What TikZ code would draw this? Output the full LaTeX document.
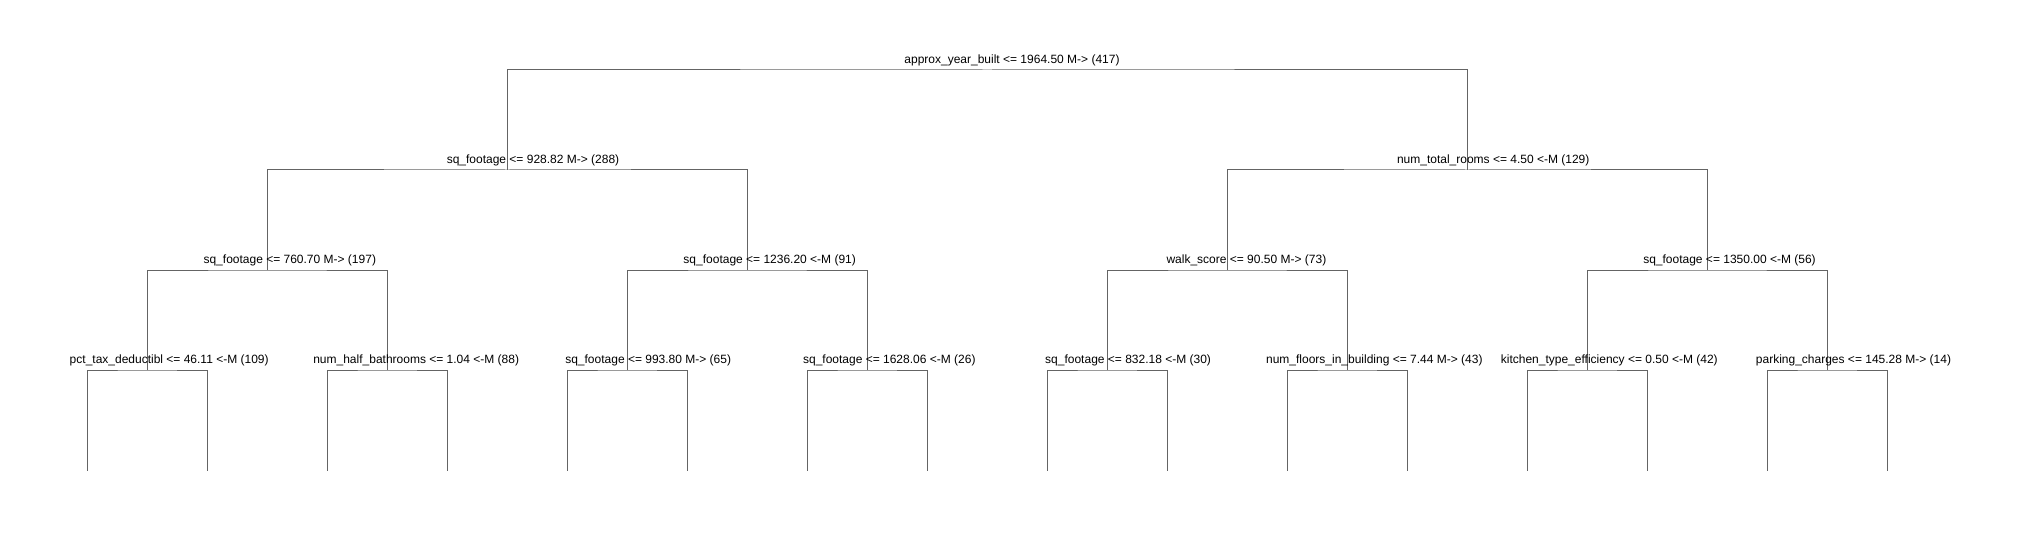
\documentclass[tikz,border=0pt]{standalone}
\usepackage{fontspec}
\setmainfont{Liberation Sans}
\definecolor{edgegray}{RGB}{100,100,100}
\begin{document}
\begin{tikzpicture}[x=1pt,y=-1pt,
  edge/.style={draw=edgegray,line width=1pt},
  lbl/.style={anchor=base,inner sep=0pt,font=\fontsize{12}{14}\selectfont,text=black}]
\fill[white] (0,0) rectangle (2021,540);
\useasboundingbox (0,0) rectangle (2021,540);
% split points
\coordinate (n0) at (987.3,70);
\coordinate (n1) at (507.3,170);
\coordinate (n2) at (1467.3,170);
\coordinate (n3) at (267.3,270);
\coordinate (n4) at (747.3,270);
\coordinate (n5) at (1227.3,270);
\coordinate (n6) at (1707.3,270);
\coordinate (n7) at (147.3,370);
\coordinate (n8) at (387.3,370);
\coordinate (n9) at (627.3,370);
\coordinate (n10) at (867.3,370);
\coordinate (n11) at (1107.3,370);
\coordinate (n12) at (1347.3,370);
\coordinate (n13) at (1587.3,370);
\coordinate (n14) at (1827.3,370);
% leaves
\foreach \k in {1,...,16}{
  \coordinate (l\k) at ({87.3+120*(\k-1)},470.7);
}
% edges
\draw[edge] (n1) |- (n0) -| (n2);
\draw[edge] (n3) |- (n1) -| (n4);
\draw[edge] (n5) |- (n2) -| (n6);
\draw[edge] (n7) |- (n3) -| (n8);
\draw[edge] (n9) |- (n4) -| (n10);
\draw[edge] (n11) |- (n5) -| (n12);
\draw[edge] (n13) |- (n6) -| (n14);
\draw[edge] (l1) |- (n7) -| (l2);
\draw[edge] (l3) |- (n8) -| (l4);
\draw[edge] (l5) |- (n9) -| (l6);
\draw[edge] (l7) |- (n10) -| (l8);
\draw[edge] (l9) |- (n11) -| (l10);
\draw[edge] (l11) |- (n12) -| (l12);
\draw[edge] (l13) |- (n13) -| (l14);
\draw[edge] (l15) |- (n14) -| (l16);
% labels
\node[lbl] (t0) at (1012,63.3) {approx\_year\_built <= 1964.50 M-> (417)};
\node[lbl] (t1) at (533,163.3) {sq\_footage <= 928.82 M-> (288)};
\node[lbl] (t2) at (1493.2,163.3) {num\_total\_rooms <= 4.50 <-M (129)};
\node[lbl] (t3) at (289.8,263.3) {sq\_footage <= 760.70 M-> (197)};
\node[lbl] (t4) at (769.7,263.3) {sq\_footage <= 1236.20 <-M (91)};
\node[lbl] (t5) at (1246.4,263.3) {walk\_score <= 90.50 M-> (73)};
\node[lbl] (t6) at (1729.5,263.3) {sq\_footage <= 1350.00 <-M (56)};
\node[lbl] (t7) at (169.2,363.3) {pct\_tax\_deductibl <= 46.11 <-M (109)};
\node[lbl] (t8) at (416.2,363.3) {num\_half\_bathrooms <= 1.04 <-M (88)};
\node[lbl] (t9) at (648.2,363.3) {sq\_footage <= 993.80 M-> (65)};
\node[lbl] (t10) at (889.3,363.3) {sq\_footage <= 1628.06 <-M (26)};
\node[lbl] (t11) at (1128.1,363.3) {sq\_footage <= 832.18 <-M (30)};
\node[lbl] (t12) at (1374.3,363.3) {num\_floors\_in\_building <= 7.44 M-> (43)};
\node[lbl] (t13) at (1609.3,363.3) {kitchen\_type\_efficiency <= 0.50 <-M (42)};
\node[lbl] (t14) at (1853.5,363.3) {parking\_charges <= 145.28 M-> (14)};
\end{tikzpicture}
\end{document}
